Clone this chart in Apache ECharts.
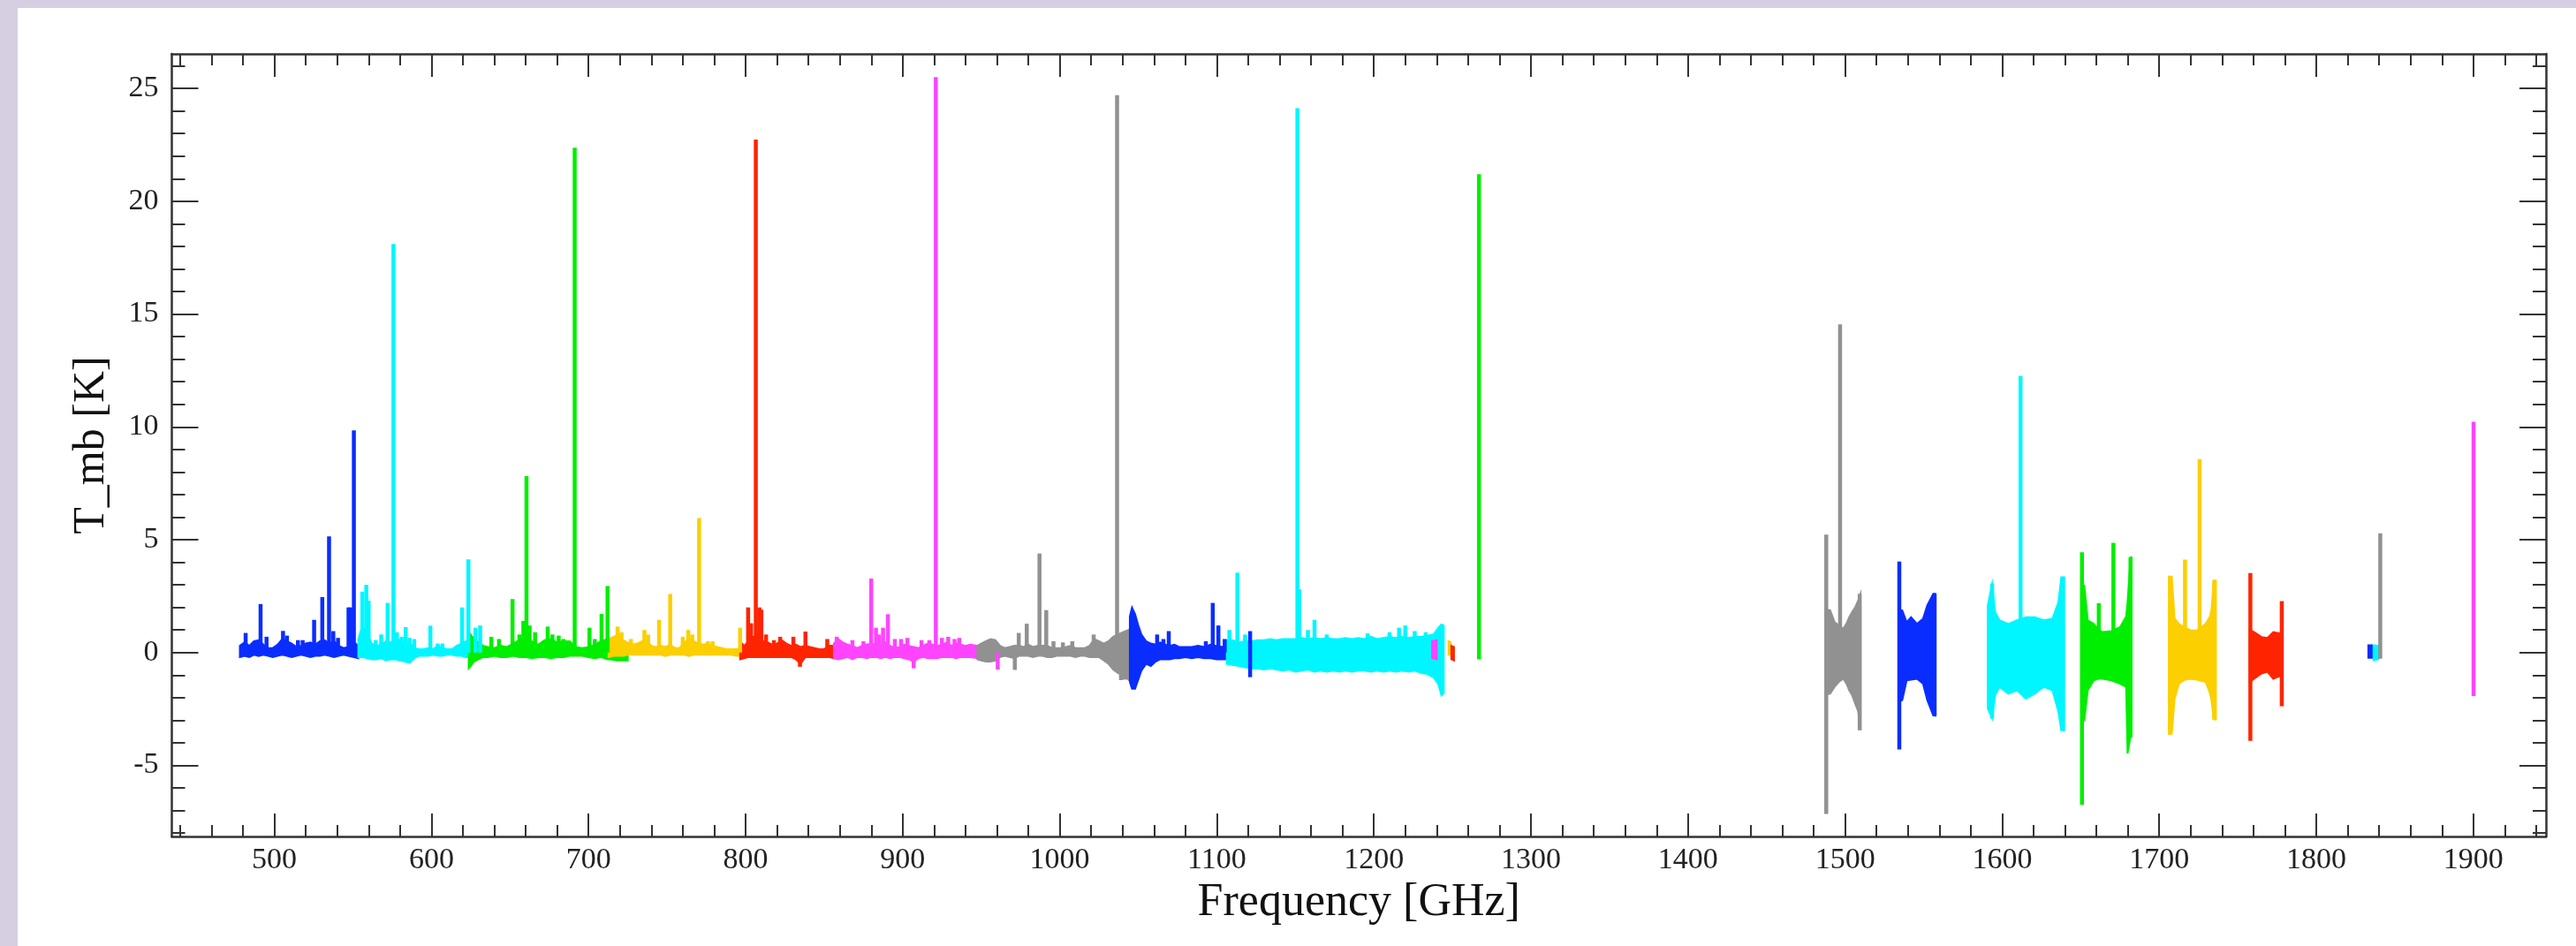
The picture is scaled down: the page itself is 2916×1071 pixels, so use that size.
<!DOCTYPE html>
<html>
<head>
<meta charset="utf-8">
<script src="https://cdn.jsdelivr.net/npm/echarts@6/dist/echarts.min.js"></script>
<style>
html,body{margin:0;padding:0;background:#d6cfe2;width:2916px;height:1071px;overflow:hidden;}
#chart{position:absolute;left:20px;top:9px;width:2896px;height:1062px;background:#ffffff;}
</style>
</head>
<body>
<div id="chart"></div>
<script>
// ---- axis ranges and ticks ----
const XMIN = 434.7, XMAX = 1946.2, YMIN = -8.15, YMAX = 26.53;
const xMajorTicks = [500,600,700,800,900,1000,1100,1200,1300,1400,1500,1600,1700,1800,1900];
const xMinorTicks = [440,460,480,500,520,540,560,580,600,620,640,660,680,700,720,740,760,780,800,820,840,860,880,900,920,940,960,980,1000,1020,1040,1060,1080,1100,1120,1140,1160,1180,1200,1220,1240,1260,1280,1300,1320,1340,1360,1380,1400,1420,1440,1460,1480,1500,1520,1540,1560,1580,1600,1620,1640,1660,1680,1700,1720,1740,1760,1780,1800,1820,1840,1860,1880,1900,1920,1940];
const yMajorTicks = [-5,0,5,10,15,20,25];
const yMinorTicks = [-8,-7,-6,-5,-4,-3,-2,-1,0,1,2,3,4,5,6,7,8,9,10,11,12,13,14,15,16,17,18,19,20,21,22,23,24,25,26];

// ---- colours ----
const BLUE = '#0a2dff', CYAN = '#00f6ff', GREEN = '#00ee00', YELLOW = '#fccf00',
      RED = '#ff2400', MAGENTA = '#ff44ff', GRAY = '#919191';

// ---- spectra: envelopes [freq GHz, low K, high K] and lines [freq, from K, to K] ----
const envBlue1 = [[478,-0.2,0.3],[481,-0.15,0.45],[484,-0.2,0.3],[487,-0.1,0.5],[490,-0.15,0.55],[493,-0.1,0.35],[496,-0.15,0.2],[499,-0.2,0.2],[502,-0.15,0.35],[505,-0.1,0.6],[508,-0.15,0.5],[511,-0.2,0.4],[514,-0.15,0.25],[517,-0.1,0.3],[520,-0.15,0.4],[523,-0.2,0.45],[526,-0.15,0.35],[529,-0.15,0.5],[532,-0.1,0.55],[535,-0.15,0.4],[538,-0.2,0.5],[541,-0.15,0.3],[544,-0.1,0.2],[547,-0.15,0.25],[550,-0.2,0.5],[553.4,-0.25,0.3]];
const spkBlue1 = [[481.7,0,0.87],[491.2,0,2.15],[495,0,0.7],[505.5,0,0.96],[508,0,0.75],[515,0,0.55],[518,0,0.55],[525.3,0,1.45],[530.5,0,2.46],[534.8,0,5.15],[537.5,0,0.95],[540.5,0,0.65],[547.2,0,2.0],[548.4,0,2.0],[550.6,0,9.85]];

const envCyan1 = [[553.4,-0.2,0.6],[556,-0.2,1.2],[559,-0.25,0.8],[562,-0.3,0.4],[565,-0.3,0.3],[568,-0.25,0.35],[571,-0.35,0.5],[574,-0.3,0.45],[577,-0.3,0.6],[580,-0.35,0.55],[583,-0.4,0.4],[586,-0.45,0.45],[589,-0.25,0.2],[592,-0.15,0.15],[595,-0.15,0.15],[598,-0.15,0.2],[601,-0.1,0.15],[604,-0.15,0.3],[607,-0.15,0.2],[610,-0.1,0.15],[613,-0.1,0.15],[616,-0.15,0.3],[619,-0.15,0.4],[622,-0.2,0.5],[623.7,-0.2,0.6]];
const spkCyan1 = [[556,0,2.7],[558.5,0,3.0],[560,0,2.3],[564.5,0,0.55],[568,0,0.8],[572.1,0,2.2],[575.8,0,18.1],[578,0,0.9],[581,0,0.7],[583.6,0,1.13],[586,0,0.65],[589,0,0.6],[599.3,0,1.19],[604,0,0.4],[607,0,0.4],[619.5,0,2.0],[623.5,0,4.13],[628,0,1.1],[631,0,1.2]];

const envGreen1 = [[623.7,-0.7,0.9],[625,-0.6,0.8],[627,-0.4,0.6],[630,-0.3,0.45],[633,-0.2,0.3],[636,-0.2,0.25],[640,-0.15,0.2],[644,-0.2,0.3],[648,-0.2,0.25],[652,-0.15,0.4],[656,-0.2,0.55],[660,-0.2,0.7],[664,-0.25,0.5],[668,-0.2,0.35],[672,-0.2,0.55],[676,-0.25,0.6],[680,-0.2,0.45],[684,-0.2,0.5],[688,-0.15,0.5],[692,-0.15,0.25],[696,-0.15,0.2],[700,-0.2,0.25],[704,-0.25,0.35],[708,-0.2,0.5],[712,-0.3,0.6],[714,-0.3,0.3],[718,-0.35,0.0],[725,-0.35,-0.1]];
const spkGreen1 = [[638.1,0,0.7],[643,0,0.6],[651.6,0,2.37],[656,0,0.8],[658.5,0,1.4],[660.5,0,7.82],[662.5,0,1.2],[666,0,0.9],[674,0,1.15],[677,0,0.8],[681,0,0.75],[684,0,0.6],[691.2,0,22.37],[700.6,0,1.1],[704,0,0.6],[708.3,0,1.71],[712.1,0,2.95]];

const envYellow1 = [[712.7,-0.2,0.6],[716,-0.15,0.7],[719,-0.15,0.8],[722,-0.15,0.55],[725,-0.1,0.45],[728,-0.1,0.35],[731,-0.1,0.4],[734,-0.1,0.5],[737,-0.1,0.55],[740,-0.1,0.3],[743,-0.1,0.25],[746,-0.1,0.3],[749,-0.15,0.25],[752,-0.1,0.35],[755,-0.1,0.2],[758,-0.1,0.2],[761,-0.1,0.45],[764,-0.15,0.6],[767,-0.1,0.5],[770,-0.1,0.4],[773,-0.1,0.35],[776,-0.1,0.4],[779,-0.1,0.3],[782,-0.1,0.25],[785,-0.1,0.2],[788,-0.1,0.15],[791,-0.1,0.15],[794,-0.15,0.15],[797.6,-0.15,0.2]];
const spkYellow1 = [[718.5,0,1.15],[721,0,0.9],[727,0,0.6],[735.6,0,1.0],[738,0,0.8],[744.9,0,1.45],[752,0,2.6],[760,0,0.7],[763.5,0,1.0],[766,0,0.8],[770.4,0,5.96],[776,0,0.5],[779,0,0.5],[796.5,0,1.1]];

const envRed1 = [[796.5,-0.3,0.5],[799,-0.25,0.3],[802,-0.2,0.5],[805,-0.2,0.7],[808,-0.2,0.8],[811,-0.2,0.5],[814,-0.2,0.45],[817,-0.2,0.35],[820,-0.2,0.4],[823,-0.2,0.55],[826,-0.2,0.4],[829,-0.2,0.3],[832,-0.3,0.35],[835,-0.5,0.25],[838,-0.2,0.3],[841,-0.2,0.25],[844,-0.2,0.2],[847,-0.2,0.15],[850,-0.2,0.15],[853,-0.2,0.3],[856.2,-0.25,0.3]];
const spkRed1 = [[801.6,0,2.0],[803.5,0,1.3],[806.5,0,22.73],[808.8,0,2.0],[810,0,1.9],[813,0,0.8],[818,0,0.55],[822,0,0.7],[830.4,0,0.7],[834.6,-0.63,0],[838.1,0,0.93],[852,0,0.6]];

const envMagenta1 = [[856.2,-0.25,0.4],[859,-0.3,0.6],[862,-0.25,0.45],[865,-0.2,0.35],[868,-0.3,0.3],[871,-0.2,0.2],[874,-0.2,0.3],[877,-0.25,0.35],[880,-0.2,0.4],[883,-0.2,0.35],[886,-0.25,0.3],[889,-0.2,0.45],[892,-0.25,0.3],[895,-0.2,0.2],[898,-0.2,0.25],[901,-0.25,0.35],[904,-0.3,0.3],[907,-0.4,0.25],[910,-0.25,0.2],[913,-0.2,0.3],[916,-0.25,0.4],[919,-0.25,0.35],[922,-0.25,0.3],[925,-0.2,0.35],[928,-0.2,0.45],[931,-0.2,0.3],[934,-0.25,0.4],[937,-0.2,0.35],[940,-0.2,0.3],[943,-0.2,0.35],[947.5,-0.25,0.3]];
const spkMagenta1 = [[858,0,0.7],[868,0,0.55],[875,0,0.5],[880,0,3.28],[883,0,1.1],[885,0,0.8],[887.5,0,1.1],[890.6,0,1.7],[895,0,0.6],[899,0,0.6],[903,0,0.65],[907,-0.7,0],[912,0,0.55],[917,0,0.55],[921.1,0,25.5],[925,0,0.65],[929,0,0.7],[933,0,0.6],[936,0,0.65],[960.5,-0.75,0]];

const envGray1 = [[947.5,-0.3,0.3],[950,-0.35,0.4],[953,-0.4,0.5],[956,-0.4,0.6],[959,-0.35,0.55],[962,-0.2,0.3],[965,-0.15,0.2],[968,-0.2,0.25],[971,-0.25,0.3],[974,-0.15,0.3],[977,-0.15,0.25],[980,-0.15,0.35],[983,-0.2,0.25],[986,-0.15,0.3],[989,-0.15,0.3],[992,-0.2,0.3],[995,-0.2,0.2],[998,-0.15,0.2],[1001,-0.15,0.2],[1004,-0.15,0.25],[1007,-0.15,0.3],[1010,-0.2,0.2],[1013,-0.15,0.2],[1016,-0.15,0.2],[1019,-0.2,0.3],[1022,-0.2,0.6],[1025,-0.2,0.5],[1028,-0.35,0.4],[1031,-0.5,0.5],[1034,-0.75,0.7],[1037,-0.9,0.8],[1040,-1.0,0.9],[1043.6,-1.2,1.0]];
const spkGray1 = [[971.4,-0.77,0],[973.9,0,0.87],[979,0,1.28],[987.1,0,4.39],[991.4,0,1.88],[996,0,0.5],[1002,0,0.45],[1008,0,0.5],[1021.6,0,0.8],[1036.5,0,24.7],[1039,-1.22,0],[1041,-1.2,0]];

const envBlue2 = [[1044.6,-1.3,1.6],[1046,-1.6,2.0],[1048,-1.6,1.7],[1050,-1.2,1.2],[1052,-0.8,0.8],[1055,-0.5,0.5],[1058,-0.6,0.4],[1061,-0.4,0.35],[1064,-0.3,0.45],[1067,-0.3,0.35],[1070,-0.3,0.3],[1073,-0.25,0.35],[1076,-0.25,0.25],[1080,-0.2,0.25],[1084,-0.25,0.25],[1088,-0.2,0.3],[1092,-0.25,0.25],[1096,-0.25,0.35],[1100,-0.3,0.3],[1104,-0.3,0.25],[1106.3,-0.3,0.3]];
const spkBlue2 = [[1062,0,0.8],[1066,0,0.6],[1069.4,0,0.95],[1093,0,0.5],[1097.4,0,2.2],[1101,0,1.2],[1105,0,0.6],[1121.2,-1.09,0.95]];

const envCyan2 = [[1106.3,-0.5,0.55],[1110,-0.55,0.55],[1114,-0.6,0.45],[1118,-0.65,0.5],[1122,-0.7,0.5],[1126,-0.7,0.55],[1130,-0.75,0.55],[1134,-0.7,0.6],[1138,-0.75,0.55],[1142,-0.8,0.6],[1146,-0.75,0.6],[1150,-0.85,0.6],[1154,-0.8,0.65],[1158,-0.75,0.6],[1162,-0.85,0.65],[1166,-0.8,0.6],[1170,-0.85,0.65],[1174,-0.8,0.6],[1178,-0.85,0.6],[1182,-0.8,0.65],[1186,-0.85,0.6],[1190,-0.8,0.65],[1194,-0.8,0.6],[1198,-0.85,0.7],[1202,-0.8,0.6],[1206,-0.85,0.65],[1210,-0.8,0.7],[1214,-0.85,0.65],[1218,-0.8,0.7],[1222,-0.85,0.65],[1226,-0.8,0.7],[1230,-0.9,0.7],[1234,-0.95,0.75],[1238,-1.1,0.8],[1241,-1.4,1.1],[1243,-1.9,1.25],[1244.5,-1.8,1.2]];
const spkCyan2 = [[1108,0,1.0],[1113.1,0,3.54],[1118,0,0.8],[1151.3,0,24.12],[1152.5,0,2.8],[1158,0,1.0],[1162.2,0,1.45],[1170,0,0.8],[1196,0,0.85],[1210,0,0.9],[1216,0,1.1],[1220,0,1.2],[1226,0,0.95],[1233,0,0.9]];

const envMagenta2 = [[1237,-0.25,0.5],[1240,-0.3,0.55]];
const envYellow2 = [[1247.5,-0.1,0.5],[1249,-0.1,0.45]];
const envRed2 = [[1249.3,-0.3,0.3],[1251,-0.35,0.25]];
const spkGreen2 = [[1266.9,-0.3,21.2]];

const envGray3 = [[1488,-1.85,1.9],[1490.5,-1.82,1.87],[1493.3,-1.52,1.35],[1496,-1.3,1.2],[1498.9,-1.16,1.06],[1501,-1.4,1.3],[1502.6,-1.67,1.57],[1504.5,-1.9,1.8],[1506.4,-2.26,2.01],[1508.3,-2.6,2.3],[1509.8,-3.44,2.6]];
const spkGray3 = [[1488,-7.15,5.23],[1496.8,-1.2,14.54],[1509.3,-3.44,2.6]];

const envBlue3 = [[1534,-2.2,1.9],[1536.4,-2.11,1.87],[1539.2,-1.23,1.35],[1542,-1.2,1.57],[1545.8,-1.16,1.27],[1549.6,-1.38,1.5],[1552.3,-2.11,2.09],[1556.1,-2.78,2.6],[1557.4,-2.8,2.6]];
const spkBlue3 = [[1534.5,-4.29,4.03],[1557,-2.8,2.6]];

const envCyan3 = [[1590.8,-2.48,2.09],[1593.6,-2.92,3.05],[1595.5,-1.9,1.8],[1598.3,-1.52,1.43],[1603.9,-1.82,1.27],[1609.5,-1.67,1.43],[1615.1,-2.04,1.57],[1620.8,-1.82,1.57],[1626.4,-1.52,1.43],[1632,-1.67,1.5],[1635.8,-2.63,2.24],[1637.6,-3.44,3.34],[1639.5,-3.44,3.34]];
const spkCyan3 = [[1593.6,-2.92,3.05],[1611.7,0,12.26],[1638.5,-3.44,3.34]];

const envGreen3 = [[1650.4,-3.0,2.97],[1652.3,-3.0,2.97],[1654.5,-1.67,1.43],[1658.3,-1.23,1.27],[1661.5,-1.16,1.0],[1663.9,-1.16,0.91],[1669.5,-1.23,0.95],[1675.1,-1.38,1.13],[1678.9,-1.52,1.6],[1679.8,-4.47,2.23],[1681.7,-3.73,4.22],[1682.3,-3.73,4.22]];
const spkGreen3 = [[1650.8,-6.75,4.44],[1661.5,0,2.19],[1670.8,0,4.86],[1681.7,-3.73,4.22]];

const envYellow3 = [[1706.1,-3.61,3.37],[1708,-3.6,3.37],[1709.8,-2.04,1.5],[1712.6,-1.38,1.27],[1716.4,-1.2,1.1],[1720.1,-1.16,0.98],[1723.9,-1.2,0.98],[1729.5,-1.3,1.27],[1732.3,-1.8,1.6],[1733.2,-2.11,1.9],[1734.7,-2.96,3.19],[1736.1,-2.96,3.19]];
const spkYellow3 = [[1707,-3.61,3.37],[1716.4,0,4.12],[1725.7,0,8.57],[1735,-2.96,3.19]];

const envRed3 = [[1757.6,-1.3,1.0],[1760.4,-1.16,0.91],[1765.1,-0.93,0.69],[1768.9,-0.85,0.65],[1772.6,-1.16,0.91],[1776.4,-1.05,0.85],[1778.6,-1.1,0.9]];
const spkRed3 = [[1758,-3.91,3.52],[1778,-2.38,2.28]];

const envBlue4 = [[1833.1,-0.23,0.32],[1835.4,-0.23,0.32]];
const envCyan4 = [[1836.4,-0.34,0.32],[1839.5,-0.3,0.3]];
const spkGray4 = [[1840.7,-0.27,5.29]];
const spkMagenta4 = [[1900.1,-1.93,10.23]];

// ---- build series ----
const envelopes = [
  [envBlue1, BLUE],[envCyan1, CYAN],[envGreen1, GREEN],[envYellow1, YELLOW],[envRed1, RED],
  [envMagenta1, MAGENTA],[envGray1, GRAY],[envBlue2, BLUE],[envCyan2, CYAN],
  [envMagenta2, MAGENTA],[envYellow2, YELLOW],[envRed2, RED],
  [envGray3, GRAY],[envBlue3, BLUE],[envCyan3, CYAN],[envGreen3, GREEN],[envYellow3, YELLOW],[envRed3, RED],
  [envBlue4, BLUE],[envCyan4, CYAN]
];
const spikes = [
  [spkBlue1, BLUE],[spkCyan1, CYAN],[spkGreen1, GREEN],[spkYellow1, YELLOW],[spkRed1, RED],
  [spkMagenta1, MAGENTA],[spkGray1, GRAY],[spkBlue2, BLUE],[spkCyan2, CYAN],[spkGreen2, GREEN],
  [spkGray3, GRAY],[spkBlue3, BLUE],[spkCyan3, CYAN],[spkGreen3, GREEN],[spkYellow3, YELLOW],[spkRed3, RED],
  [spkGray4, GRAY],[spkMagenta4, MAGENTA]
];

const series = [];
envelopes.forEach(function (e) {
  const env = e[0], color = e[1];
  series.push({
    type: 'custom', xAxisIndex: 0, yAxisIndex: 0, silent: true, animation: false,
    data: env,
    renderItem: function (params, api) {
      if (params.dataIndex !== 0) return null;
      const top = env.map(function (p) { return api.coord([p[0], p[2]]); });
      const bot = env.slice().reverse().map(function (p) { return api.coord([p[0], p[1]]); });
      return { type: 'polygon', shape: { points: top.concat(bot) },
               style: { fill: color, stroke: color, lineWidth: 2 } };
    }
  });
});
spikes.forEach(function (s) {
  const arr = s[0], color = s[1];
  series.push({
    type: 'custom', xAxisIndex: 0, yAxisIndex: 0, silent: true, animation: false,
    data: arr,
    renderItem: function (params, api) {
      const f = api.value(0), lo = api.value(1), hi = api.value(2);
      const pTop = api.coord([f, hi]), pBot = api.coord([f, lo]);
      const w = 4.5;
      return { type: 'rect', shape: { x: pTop[0] - w / 2, y: pTop[1], width: w, height: Math.max(pBot[1] - pTop[1], 1) },
               style: { fill: color } };
    }
  });
});

const AX = '#333';
const FONT = 'Liberation Serif';
function plain(v) { return String(v); }
function xAxisDef(pos, ticks, len, main) {
  return {
    type: 'value', min: XMIN, max: XMAX, position: pos,
    axisLine: { show: main, onZero: false, lineStyle: { color: AX, width: 2.5 } },
    axisTick: { show: true, inside: true, length: len, customValues: ticks, lineStyle: { color: AX, width: 2 } },
    axisLabel: (main && pos === 'bottom') ? { show: true, customValues: xMajorTicks, formatter: plain, margin: 10, fontSize: 34, fontFamily: FONT, color: '#222' } : { show: false },
    splitLine: { show: false },
    name: (main && pos === 'bottom') ? 'Frequency [GHz]' : '',
    nameLocation: 'middle', nameGap: 42,
    nameTextStyle: { fontSize: 52, fontFamily: FONT, color: '#111' }
  };
}
function yAxisDef(pos, ticks, len, main) {
  return {
    type: 'value', min: YMIN, max: YMAX, position: pos,
    axisLine: { show: main, onZero: false, lineStyle: { color: AX, width: 2.5 } },
    axisTick: { show: true, inside: true, length: len, customValues: ticks, lineStyle: { color: AX, width: 2 } },
    axisLabel: (main && pos === 'left') ? { show: true, customValues: yMajorTicks, formatter: plain, margin: 15, fontSize: 34, fontFamily: FONT, color: '#222' } : { show: false },
    splitLine: { show: false },
    name: (main && pos === 'left') ? 'T_mb [K]' : '',
    nameLocation: 'middle', nameGap: 66, nameRotate: 90,
    nameTextStyle: { fontSize: 50, fontFamily: FONT, color: '#111' }
  };
}

const chart = echarts.init(document.getElementById('chart'), null, { renderer: 'canvas' });
chart.setOption({
  animation: false,
  backgroundColor: '#ffffff',
  grid: { left: 174.5, right: 34, top: 52, bottom: 124, containLabel: false },
  xAxis: [
    xAxisDef('bottom', xMajorTicks, 26, true),
    xAxisDef('bottom', xMinorTicks, 13, false),
    xAxisDef('top', xMajorTicks, 26, true),
    xAxisDef('top', xMinorTicks, 13, false)
  ],
  yAxis: [
    yAxisDef('left', yMajorTicks, 30, true),
    yAxisDef('left', yMinorTicks, 15, false),
    yAxisDef('right', yMajorTicks, 30, true),
    yAxisDef('right', yMinorTicks, 15, false)
  ],
  series: series
});
</script>
</body>
</html>
